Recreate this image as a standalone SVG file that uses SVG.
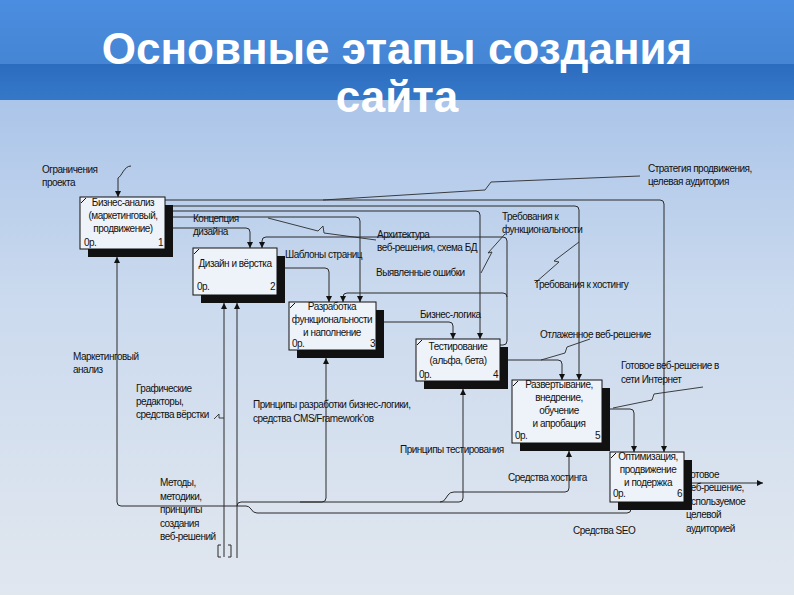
<svg xmlns="http://www.w3.org/2000/svg" width="794" height="595" viewBox="0 0 794 595">
<defs>
<linearGradient id="bgTop" x1="0" y1="0" x2="0" y2="1"><stop offset="0" stop-color="#4b8de0"/><stop offset="1" stop-color="#4585d4"/></linearGradient>
<linearGradient id="bgBand" x1="0" y1="0" x2="0" y2="1"><stop offset="0" stop-color="#2c6cbf"/><stop offset="1" stop-color="#3578c8"/></linearGradient>
<linearGradient id="bgLow" x1="0" y1="0" x2="0" y2="1"><stop offset="0" stop-color="#abc5e9"/><stop offset="0.4" stop-color="#cbdaee"/><stop offset="1" stop-color="#e1e7ef"/></linearGradient>
<marker id="ah" viewBox="0 0 8 8" refX="8" refY="4" markerWidth="6" markerHeight="7" markerUnits="userSpaceOnUse" orient="auto"><path d="M0,0 L8,4 L0,8 z" fill="#111"/></marker>
<style>
.ln{fill:none;stroke:#2b2b2b;stroke-width:1}
.ar{marker-end:url(#ah)}
.ld{fill:none;stroke:#2b2b2b;stroke-width:0.9}
.t{font-family:"Liberation Sans",Arial,sans-serif;font-size:10px;letter-spacing:-0.5px;fill:#111}
.c{text-anchor:middle}
.r{text-anchor:end}
.box{fill:#eef3fa;stroke:#111;stroke-width:1}
.sh{fill:#111}
.tk{stroke:#111;stroke-width:1}
.title{font-family:"Liberation Sans",Arial,sans-serif;font-weight:bold;font-size:44px;fill:#ffffff;text-anchor:middle}
</style>
</defs>
<rect x="0" y="0" width="794" height="64" fill="url(#bgTop)"/>
<rect x="0" y="64" width="794" height="36" fill="url(#bgBand)"/>
<rect x="0" y="100" width="794" height="495" fill="url(#bgLow)"/>
<g id="title">
<text class="title" x="397" y="64">Основные этапы создания</text>
<text class="title" x="397" y="112">сайта</text>
</g>
<g id="connectors">
<path class="ln ar" d="M 131 166 C 124 166 122 176 118 178 V 197"/>
<path class="ln ar" d="M 165 200 H 660 Q 664 200 664 204 V 452"/>
<path class="ln ar" d="M 165 206 H 575 Q 579 206 579 210 V 380"/>
<path class="ln ar" d="M 165 211 H 476 Q 480 211 480 215 V 339"/>
<path class="ln ar" d="M 165 217 H 356 Q 360 217 360 221 V 302"/>
<path class="ln ar" d="M 165 228 H 246 Q 250 228 250 232 V 248"/>
<path class="ln ar" d="M 277 268 H 325 Q 329 268 329 272 V 302"/>
<path class="ln ar" d="M 376 322 H 449 Q 453 322 453 326 V 339"/>
<path class="ln ar" d="M 500 360 H 558 Q 562 360 562 364 V 380"/>
<path class="ln ar" d="M 500 345 H 503 Q 507 345 507 341 V 297 Q 507 293 503 293 H 347 Q 343 293 343 297 V 302"/>
<path class="ln ar" d="M 507 297 V 241 Q 507 237 503 237 H 266 Q 262 237 262 241 V 248"/>
<path class="ln ar" d="M 602 409 H 630 Q 634 409 634 413 V 452"/>
<path class="ln ar" d="M 684 483 H 763"/>
<path class="ln ar" d="M 224 557 V 303"/>
<path class="ln ar" d="M 237 558 V 303"/>
<path class="ln ar" d="M 237 506 H 121 Q 117 506 117 502 V 257"/>
<path class="ln ar" d="M 237 506 Q 237 502 241 502 H 459 Q 463 502 463 498 V 389"/>
<path class="ln ar" d="M 300 502 H 322 Q 326 502 326 498 V 358"/>
<path class="ln ar" d="M 440 502 Q 444 502 446 498 L 448 495 Q 450 492 454 492 H 565 Q 569 492 569 488 V 451"/>
<path class="ln" d="M 237 506 H 246 Q 249 506 251 509 Q 253 513 257 513 H 627 Q 631 513 631 509"/>
<path class="ln" d="M 221 545 H 218 V 557 H 221 M 228 545 H 231 V 557 H 228"/>
<polyline class="ld" points="323,200 485,190 491,182 640,176"/>
<polyline class="ld" points="268,218 318,231 323,226 324,233 376,240"/>
<polyline class="ld" points="481,273 492,252 488,253 505,234"/>
<polyline class="ld" points="579,242 554,261 559,262 535,283"/>
<polyline class="ld" points="541,360 565,353 567,347 590,339"/>
<polyline class="ld" points="613,408 652,400 654,394 703,387"/>
<polyline class="ld" points="214,419 219,414 219,418 224,418"/>
</g>
<g id="labels">
<text class="t" x="42" y="173">Ограничения</text>
<text class="t" x="42" y="186">проекта</text>
<text class="t" x="648" y="172">Стратегия продвижения,</text>
<text class="t" x="648" y="185">целевая аудитория</text>
<text class="t" x="193" y="222">Концепция</text>
<text class="t" x="193" y="235">дизайна</text>
<text class="t" x="377" y="238">Архитектура</text>
<text class="t" x="377" y="251">веб-решения, схема БД</text>
<text class="t" x="285" y="258">Шаблоны страниц</text>
<text class="t" x="376" y="276">Выявленные ошибки</text>
<text class="t" x="502" y="220">Требования к</text>
<text class="t" x="502" y="233">функциональности</text>
<text class="t" x="534" y="288">Требования к хостингу</text>
<text class="t" x="420" y="318">Бизнес-логика</text>
<text class="t" x="540" y="338">Отлаженное веб-решение</text>
<text class="t" x="621" y="369">Готовое веб-решение в</text>
<text class="t" x="621" y="383">сети Интернет</text>
<text class="t" x="73" y="360">Маркетинговый</text>
<text class="t" x="73" y="373">анализ</text>
<text class="t" x="136" y="392">Графические</text>
<text class="t" x="136" y="405">редакторы,</text>
<text class="t" x="136" y="418">средства вёрстки</text>
<text class="t" x="253" y="408">Принципы разработки бизнес-логики,</text>
<text class="t" x="253" y="422">средства CMS/Framework’ов</text>
<text class="t" x="400" y="453">Принципы тестирования</text>
<text class="t" x="508" y="481">Средства хостинга</text>
<text class="t" x="573" y="534">Средства SEO</text>
<text class="t" x="160" y="486">Методы,</text>
<text class="t" x="160" y="500">методики,</text>
<text class="t" x="160" y="513">принципы</text>
<text class="t" x="160" y="527">создания</text>
<text class="t" x="160" y="540">веб-решений</text>
<text class="t" x="686" y="478">Готовое</text>
<text class="t" x="686" y="491">веб-решение,</text>
<text class="t" x="686" y="505">используемое</text>
<text class="t" x="686" y="518">целевой</text>
<text class="t" x="686" y="532">аудиторией</text>
</g>
<g id="node1">
<rect class="sh" x="88" y="205" width="85" height="52"/>
<rect class="box" x="80" y="197" width="85" height="52"/>
<line class="tk" x1="81" y1="203" x2="86" y2="198"/>
<text class="t c" x="123" y="206">Бизнес-анализ</text>
<text class="t c" x="123" y="219">(маркетинговый,</text>
<text class="t c" x="123" y="232">продвижение)</text>
<text class="t" x="84" y="246">0р.</text>
<text class="t r" x="163" y="246">1</text>
</g>
<g id="node2">
<rect class="sh" x="201" y="256" width="84" height="47"/>
<rect class="box" x="193" y="248" width="84" height="47"/>
<line class="tk" x1="194" y1="254" x2="199" y2="249"/>
<text class="t c" x="235" y="267">Дизайн и вёрстка</text>
<text class="t" x="197" y="290">0р.</text>
<text class="t r" x="275" y="290">2</text>
</g>
<g id="node3">
<rect class="sh" x="297" y="310" width="87" height="48"/>
<rect class="box" x="289" y="302" width="87" height="48"/>
<line class="tk" x1="290" y1="308" x2="295" y2="303"/>
<text class="t c" x="332" y="310">Разработка</text>
<text class="t c" x="332" y="323">функциональности</text>
<text class="t c" x="332" y="336">и наполнение</text>
<text class="t" x="292" y="347">0р.</text>
<text class="t r" x="375" y="347">3</text>
</g>
<g id="node4">
<rect class="sh" x="424" y="347" width="84" height="42"/>
<rect class="box" x="416" y="339" width="84" height="42"/>
<line class="tk" x1="417" y1="345" x2="422" y2="340"/>
<text class="t c" x="458" y="350">Тестирование</text>
<text class="t c" x="458" y="364">(альфа, бета)</text>
<text class="t" x="419" y="378">0р.</text>
<text class="t r" x="498" y="378">4</text>
</g>
<g id="node5">
<rect class="sh" x="520" y="388" width="90" height="63"/>
<rect class="box" x="512" y="380" width="90" height="63"/>
<line class="tk" x1="513" y1="386" x2="518" y2="381"/>
<text class="t c" x="559" y="388">Развертывание,</text>
<text class="t c" x="559" y="401">внедрение,</text>
<text class="t c" x="559" y="414">обучение</text>
<text class="t c" x="559" y="427">и апробация</text>
<text class="t" x="515" y="439">0р.</text>
<text class="t r" x="600" y="439">5</text>
</g>
<g id="node6">
<rect class="sh" x="618" y="460" width="74" height="50"/>
<rect class="box" x="610" y="452" width="74" height="50"/>
<line class="tk" x1="611" y1="458" x2="616" y2="453"/>
<text class="t c" x="648" y="460">Оптимизация,</text>
<text class="t c" x="648" y="473">продвижение</text>
<text class="t c" x="648" y="486">и подержка</text>
<text class="t" x="613" y="497">0р.</text>
<text class="t r" x="682" y="497">6</text>
</g>
</svg>
